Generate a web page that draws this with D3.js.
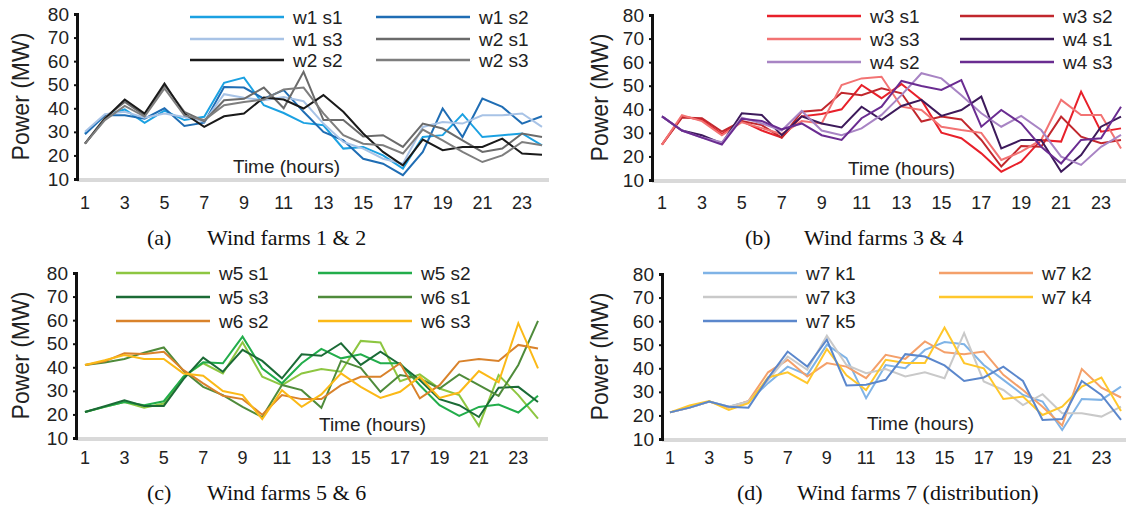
<!DOCTYPE html>
<html>
<head>
<meta charset="utf-8">
<script src="https://cdn.jsdelivr.net/npm/d3@7"></script>
<style>
  body { margin: 0; background: #fff; }
  svg { display: block; }
</style>
</head>
<body>
<svg id="chart" width="1126" height="511"></svg>
<script>
var hours = [1, 2, 3, 4, 5, 6, 7, 8, 9, 10, 11, 12, 13, 14, 15, 16, 17, 18, 19, 20, 21, 22, 23, 24];
var hourLabels = [1, 3, 5, 7, 9, 11, 13, 15, 17, 19, 21, 23];
var yTicks = [10, 20, 30, 40, 50, 60, 70, 80];

// wind farms 1 & 2
var w1s1 = [29.3, 37, 39.5, 33.8, 39, 35, 36.4, 50.8, 53, 41.3, 38, 33.8, 32.8, 22.9, 23.6, 20, 14.4, 27.8, 28.6, 37.5, 27.8, 28.6, 29.3, 24.3];
var w1s2 = [29, 37, 37, 35.6, 40, 32.5, 33.9, 49, 48.8, 44.1, 47.7, 38.5, 30, 26.4, 18.6, 16.5, 11.6, 21.5, 39.9, 27.8, 44.1, 40.6, 33.5, 36.6];
var w1s3 = [30, 37.5, 38.5, 36, 37.8, 36.3, 34.3, 46, 44.5, 43.4, 44.8, 43, 33.5, 25.7, 22.9, 18.6, 16.5, 32.1, 34.2, 33.5, 37, 37, 37.8, 32.1];
var w2s1 = [25, 36, 42.7, 37, 49.8, 38.5, 34.5, 43.4, 44, 48.8, 40, 55.5, 35, 35, 28, 28.6, 23.6, 33.5, 31.4, 26.4, 21.5, 22.9, 29.3, 27.8];
var w2s2 = [25, 35.5, 43.7, 37.8, 50.5, 37.8, 32.1, 36.6, 37.8, 44.6, 43.7, 39.9, 45.6, 38.5, 29.3, 21.5, 15.8, 26.7, 22.2, 23.6, 23.6, 27.1, 20.8, 20.3];
var w2s3 = [25, 35, 41, 36.5, 48.4, 37, 35, 41.3, 42.7, 43.7, 48, 48.8, 37.8, 28.6, 25, 24.3, 20.8, 31, 26.4, 21.5, 17.2, 20, 25.7, 24.3];

// wind farms 3 & 4
var w3s1 = [25, 37, 35.5, 29.5, 35, 31, 28, 37, 38, 40, 50.3, 44.7, 50.7, 44, 30.1, 27.7, 21.3, 13.5, 17.8, 27, 26.3, 47.5, 30.5, 31.9];
var w3s2 = [25, 36.5, 36.2, 30.5, 35, 33.3, 28, 39, 39.7, 47, 46, 48.9, 46.8, 34.8, 36.9, 35.7, 27, 15.7, 24.4, 24.1, 36.9, 28.4, 25.6, 27];
var w3s3 = [25, 37.5, 35, 29, 34.5, 32, 29.5, 35, 34, 50.3, 53.1, 53.8, 41.1, 39.7, 32.6, 31.2, 30, 18.5, 22, 27, 44, 37.6, 37.6, 23.4];
var w4s1 = [37, 31, 29, 25.5, 38.3, 37.6, 29, 37, 34, 32.3, 41.1, 35.5, 41.4, 44, 37.2, 39.7, 45.4, 23.4, 27, 27, 13.5, 20.6, 32.6, 36.9];
var w4s2 = [37, 31, 28, 26, 36.5, 34, 31, 39.3, 31, 29, 31.9, 37.6, 46, 55.3, 53.1, 46, 38.3, 32.6, 37.2, 31.2, 19.9, 16.4, 24.1, 29.1];
var w4s3 = [37, 31, 28, 25, 36, 35, 31.5, 34, 29, 27, 36.2, 41.1, 52, 49.9, 48.2, 52.4, 32.6, 39.7, 34, 24.1, 17, 27, 27.7, 41.1];

// wind farms 5 & 6
var w5s1 = [21, 23.2, 25.3, 22.8, 24.6, 36, 41.7, 37.4, 50.6, 36, 32.4, 37.4, 39.3, 38.1, 51.2, 50.5, 34.1, 37, 31, 28.2, 15.1, 36.7, 28.2, 18.2];
var w5s2 = [21, 23.2, 25.3, 23.9, 25.6, 36, 42.1, 41.7, 53, 39.5, 33.2, 41.7, 47.8, 43.8, 45.5, 41.7, 41.7, 32.4, 23.9, 19.4, 23.2, 24.2, 20.8, 27.9];
var w5s3 = [21, 23.5, 26, 23.6, 23.6, 35, 44.1, 38.1, 47.4, 42.7, 35.3, 45.5, 44.9, 50.2, 41, 46.6, 41.2, 34.6, 26.5, 23.9, 18.9, 31.3, 31.7, 25.3];
var w6s1 = [41, 42, 43.5, 46.2, 48.4, 38.5, 31.7, 28.2, 23.2, 18.9, 32.5, 30.3, 22.8, 42.7, 39.8, 29.6, 36.7, 35.3, 31, 37, 32.4, 27.9, 41, 59.7];
var w6s2 = [41, 42.5, 45.9, 45.6, 46.6, 38.8, 33.2, 27.9, 26.5, 19.9, 28.2, 26.5, 26.5, 32.4, 36, 36, 41.7, 26.8, 32.4, 42.4, 43.5, 42.7, 49.5, 48];
var w6s3 = [41, 43, 45.2, 43.5, 43.5, 37.4, 36.4, 29.9, 28.2, 18, 30.3, 23.2, 28.5, 37.4, 31.7, 27, 29.6, 36, 27, 29.3, 38.4, 33.6, 58.7, 39.5];

// wind farm 7 (distribution)
var w7k1 = [21.3, 23.3, 25.9, 23.7, 25.9, 33.7, 40.7, 37.2, 50, 44.3, 27.3, 41.4, 40, 47.8, 51.1, 50.2, 41.4, 35.1, 28.7, 25.9, 13.8, 27, 26.6, 32.2];
var w7k2 = [21.3, 23.3, 25.9, 23.3, 26.1, 38.3, 43.6, 36.5, 42.2, 40.7, 35.8, 45.7, 44, 51.4, 46.8, 46, 47.1, 37.2, 30.8, 23.7, 15.7, 39.7, 31.8, 27.6];
var w7k3 = [21.3, 23.3, 25.9, 23.7, 25.9, 35, 45, 39.3, 53.8, 41.4, 37.9, 39.7, 36.5, 38.3, 35.8, 54.9, 34.4, 30.8, 24.4, 29, 20.9, 20.9, 19.5, 23.7];
var w7k4 = [21.3, 24.2, 26.1, 22.3, 25.2, 36.1, 38.3, 33.7, 48.2, 37, 30.8, 43.6, 42.2, 42.2, 57.3, 42.2, 40, 27, 28, 20.2, 23.7, 32.2, 36.1, 21.9];
var w7k5 = [21.3, 23.3, 25.9, 23.7, 23.3, 35.8, 47.1, 40.7, 52.1, 32.7, 33, 35.1, 46, 45, 41.2, 34.6, 36.1, 40.7, 34.6, 18.1, 18.5, 34.6, 28.7, 18.1];

var panels = [
    {
        tag: "(a)", caption: "Wind farms 1 & 2",
        left: 77, right: 549, top: 14, bottom: 179, first: 85, last: 542,
        ylabX: 21, tickY: 209, capY: 245, tagX: 147, capX: 207, timeX: 233, timeY: 173,
        legCols: [190, 376], legRows: [17, 39, 60],
        series: [
            { name: "w1 s1", values: w1s1, color: "#1ba1e2" },
            { name: "w1 s2", values: w1s2, color: "#1f6db4" },
            { name: "w1 s3", values: w1s3, color: "#a8c3e6" },
            { name: "w2 s1", values: w2s1, color: "#6b6b6b" },
            { name: "w2 s2", values: w2s2, color: "#1a1a1a" },
            { name: "w2 s3", values: w2s3, color: "#7e7e7e" }
        ]
    },
    {
        tag: "(b)", caption: "Wind farms 3 & 4",
        left: 652, right: 1126, top: 15, bottom: 180, first: 662, last: 1121,
        ylabX: 600, tickY: 209, capY: 245, tagX: 745, capX: 804, timeX: 848, timeY: 175,
        legCols: [767, 960], legRows: [16, 39, 62],
        series: [
            { name: "w3 s1", values: w3s1, color: "#e8202a" },
            { name: "w3 s2", values: w3s2, color: "#c1272d" },
            { name: "w3 s3", values: w3s3, color: "#f27373" },
            { name: "w4 s1", values: w4s1, color: "#3d1a5b" },
            { name: "w4 s2", values: w4s2, color: "#a884c4" },
            { name: "w4 s3", values: w4s3, color: "#6a2c91" }
        ]
    },
    {
        tag: "(c)", caption: "Wind farms 5 & 6",
        left: 76, right: 548, top: 273, bottom: 438, first: 85, last: 538,
        ylabX: 21, tickY: 464, capY: 500, tagX: 147, capX: 207, timeX: 319, timeY: 431,
        legCols: [116, 318], legRows: [273, 297, 321],
        series: [
            { name: "w5 s1", values: w5s1, color: "#8dc641" },
            { name: "w5 s2", values: w5s2, color: "#22ad4b" },
            { name: "w5 s3", values: w5s3, color: "#1b6b36" },
            { name: "w6 s1", values: w6s1, color: "#4f8b3b" },
            { name: "w6 s2", values: w6s2, color: "#d9822b" },
            { name: "w6 s3", values: w6s3, color: "#fbb917" }
        ]
    },
    {
        tag: "(d)", caption: "Wind farms 7 (distribution)",
        left: 662, right: 1126, top: 274, bottom: 439, first: 670, last: 1121,
        ylabX: 600, tickY: 464, capY: 500, tagX: 737, capX: 797, timeX: 867, timeY: 430,
        legCols: [703, 939], legRows: [273, 297, 321],
        series: [
            { name: "w7 k1", values: w7k1, color: "#7fb3e6" },
            { name: "w7 k2", values: w7k2, color: "#f4a06a" },
            { name: "w7 k3", values: w7k3, color: "#c9c9c9" },
            { name: "w7 k4", values: w7k4, color: "#ffc72c" },
            { name: "w7 k5", values: w7k5, color: "#5b87cc" }
        ]
    }
];

var svg = d3.select("#chart");
var sans = "'Liberation Sans', Arial, sans-serif";
var serif = "'Liberation Serif', 'Times New Roman', serif";

function drawPanel(p) {
    var g = svg.append("g");

    var x = d3.scalePoint().domain(hours).range([p.first, p.last]);
    var y = d3.scaleLinear().domain([10, 80]).range([p.bottom, p.top]);

    // grey category axis
    g.append("line")
        .attr("x1", p.left).attr("x2", p.right)
        .attr("y1", p.bottom + 1).attr("y2", p.bottom + 1)
        .style("stroke", "#d9d9d9")
        .style("stroke-width", 4);

    g.selectAll(".xlab")
        .data(hourLabels)
        .enter().append("text")
        .attr("x", function(d) { return x(d); })
        .attr("y", p.tickY)
        .attr("text-anchor", "middle")
        .style("font-family", sans)
        .style("font-size", "18px")
        .style("fill", "#222")
        .text(function(d) { return d; });

    var yAxis = d3.axisLeft(y).tickValues(yTicks).tickSize(3).tickPadding(5);
    var ya = g.append("g")
        .attr("transform", "translate(" + p.left + ",0)")
        .call(yAxis);
    ya.select(".domain").style("stroke", "#111").style("stroke-width", 3);
    ya.selectAll(".tick line").style("stroke", "#111").style("stroke-width", 2);
    ya.selectAll(".tick text")
        .style("font-family", sans)
        .style("font-size", "19px")
        .style("fill", "#222");

    g.append("text")
        .attr("transform", "translate(" + p.ylabX + "," + ((p.top + p.bottom) / 2) + ") rotate(-90)")
        .attr("dy", "0.35em")
        .attr("text-anchor", "middle")
        .style("font-family", sans)
        .style("font-size", "23px")
        .style("fill", "#222")
        .text("Power (MW)");

    g.append("text")
        .attr("x", p.timeX)
        .attr("y", p.timeY)
        .style("font-family", sans)
        .style("font-size", "19px")
        .style("fill", "#222")
        .text("Time (hours)");

    var line = d3.line()
        .x(function(d, i) { return x(hours[i]); })
        .y(function(d) { return y(d); });

    p.series.forEach(function(s, i) {
        g.append("path")
            .datum(s.values)
            .style("fill", "none")
            .style("stroke", s.color)
            .style("stroke-width", 2)
            .style("stroke-linejoin", "miter")
            .attr("d", line);

        var lx = p.legCols[i % 2];
        var ly = p.legRows[Math.floor(i / 2)];
        g.append("line")
            .attr("x1", lx).attr("x2", lx + 94)
            .attr("y1", ly).attr("y2", ly)
            .style("stroke", s.color)
            .style("stroke-width", 2.5);
        g.append("text")
            .attr("x", lx + 103)
            .attr("y", ly)
            .attr("dy", "0.35em")
            .style("font-family", sans)
            .style("font-size", "19px")
            .style("fill", "#222")
            .text(s.name);
    });

    g.append("text")
        .attr("x", p.tagX)
        .attr("y", p.capY)
        .style("font-family", serif)
        .style("font-size", "22px")
        .style("fill", "#111")
        .text(p.tag);
    g.append("text")
        .attr("x", p.capX)
        .attr("y", p.capY)
        .style("font-family", serif)
        .style("font-size", "22px")
        .style("fill", "#111")
        .text(p.caption);
}

panels.forEach(drawPanel);
</script>
</body>
</html>
